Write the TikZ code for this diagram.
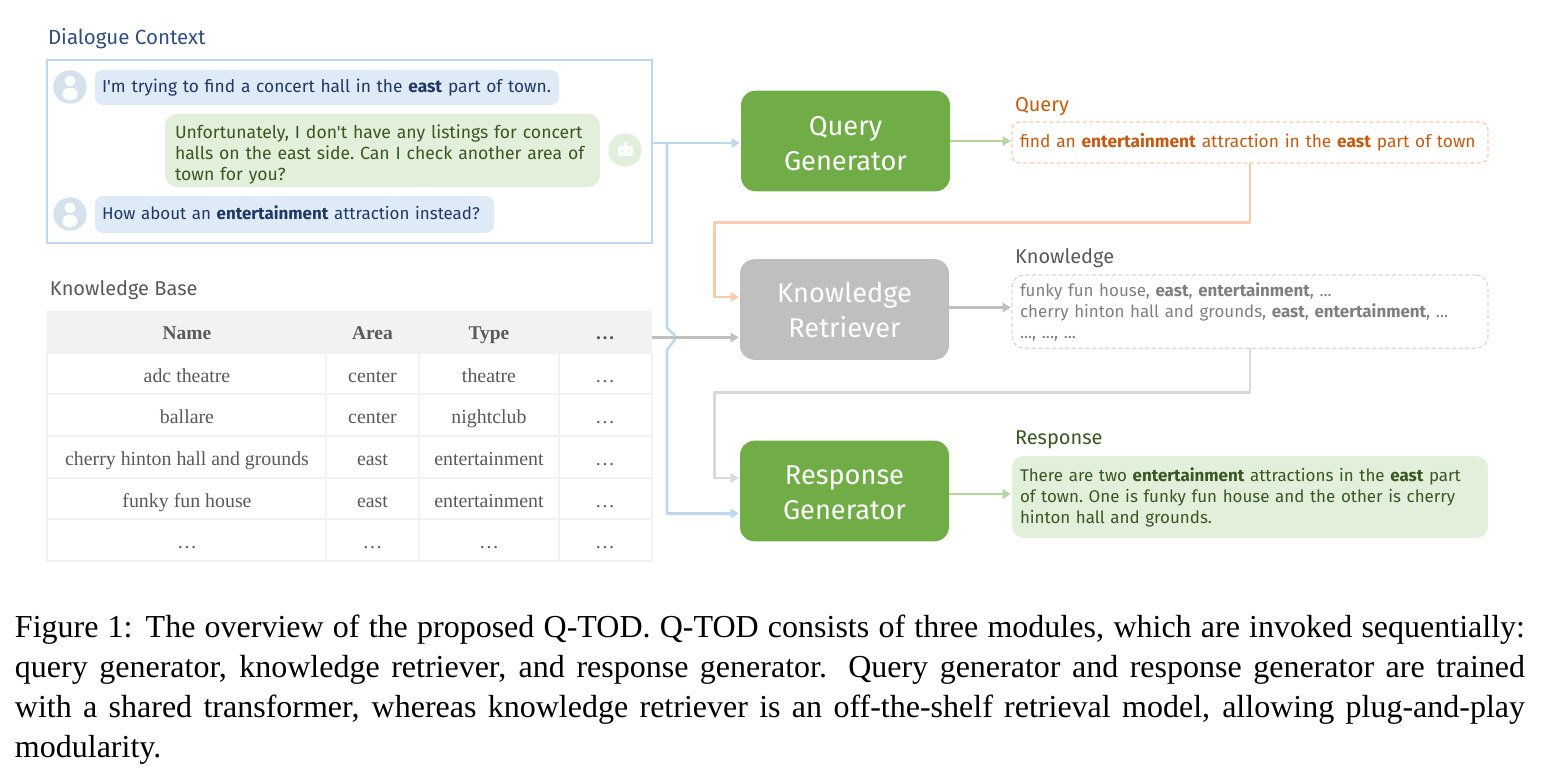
\documentclass[tikz,border=0pt]{standalone}
\usepackage{xcolor}
\usepackage{fontspec}
\setmainfont{Liberation Serif}
\newfontfamily\comicfont{Fira Sans}
\usetikzlibrary{arrows.meta}

\definecolor{dialogblue}{HTML}{BDD7EE}
\definecolor{userfill}{HTML}{DEEAF6}
\definecolor{avatarblue}{HTML}{D6E1EE}
\definecolor{userink}{HTML}{1F3864}
\definecolor{titleblue}{HTML}{2F4F80}
\definecolor{botfill}{HTML}{E2EFDA}
\definecolor{botink}{HTML}{385723}
\definecolor{modgreen}{HTML}{70AD47}
\definecolor{modgray}{HTML}{BFBFBF}
\definecolor{queryink}{HTML}{C55A11}
\definecolor{querydash}{HTML}{F8CBAD}
\definecolor{knowink}{HTML}{7F7F7F}
\definecolor{knowdash}{HTML}{D9D9D9}
\definecolor{tablegray}{HTML}{F2F2F2}
\definecolor{tableink}{HTML}{595959}

\tikzset{
  every node/.style={outer sep=0pt},
  heading/.style={anchor=base west,inner sep=0pt,font=\comicfont\fontsize{15}{18}\selectfont},
  bubble/.style={anchor=north west,rounded corners=6pt,inner xsep=6pt,inner ysep=0pt,align=left,font=\comicfont\frenchspacing\fontsize{12.7}{15.8}\selectfont},
  module/.style={rounded corners=11pt,minimum width=156.75pt,minimum height=75.5pt,align=center,text=white,font=\comicfont\fontsize{20.4}{26.2}\selectfont},
  dashbox/.style={dash pattern=on 3pt off 2pt,line width=1pt},
  avatar/.style={circle,inner sep=0pt,minimum size=25pt},
  cell/.style={anchor=base,inner sep=0pt,text=tableink,font=\fontsize{14.9}{16}\selectfont},
  headcell/.style={cell,font=\fontsize{14.6}{16}\selectfont\bfseries},
  tableline/.style={tablegray,line width=0.9pt},
  link/.style={line width=1.9pt,line join=round,-{Triangle[length=6pt,width=7pt]},shorten >=1pt}
}

\begin{document}
\begin{tikzpicture}[x=0.75pt,y=-0.75pt]
  \useasboundingbox (0,0) rectangle (1543,772);

  \node[heading,text=titleblue,font=\comicfont\fontsize{15.4}{18}\selectfont] (dialogtitle) at (48,44) {Dialogue Context};
  \node[draw=dialogblue,line width=2pt,minimum width=453.75pt,minimum height=137.25pt,anchor=north west] (dialog) at (47,60) {};

  \node[avatar,fill=avatarblue] (user1) at (70,87) {};
  \fill[white] (70,81) circle (5.5);
  \fill[white,rounded corners=4pt] (62.5,88) rectangle (77.5,100);
  \node[bubble,fill=userfill,text=userink,inner xsep=5.25pt,text width=337.5pt,minimum height=26.25pt,font=\comicfont\frenchspacing\fontsize{13}{15.8}\selectfont] (said1) at (95,70) {I'm trying to find a concert hall in the \textbf{east} part of town.};

  \node[bubble,fill=botfill,text=botink,inner xsep=7.5pt,text width=311.25pt,minimum height=54.75pt,rounded corners=9pt,font=\comicfont\frenchspacing\fontsize{13.2}{15.8}\selectfont] (said2) at (165,114) {\rule{0pt}{16pt}Unfortunately, I don't have any listings for concert\\halls on the east side. Can I check another area of\\town for you?};
  \node[avatar,fill=botfill] (bot) at (625,150) {};
  \fill[white,rounded corners=1.5pt] (618,146) rectangle (633,156);
  \fill[white] (624.3,142) rectangle (626.7,147);
  \fill[botfill] (622,151) circle (1.2) (629,151) circle (1.2);

  \node[avatar,fill=avatarblue] (user2) at (70,214) {};
  \fill[white] (70,208) circle (5.5);
  \fill[white,rounded corners=4pt] (62.5,215) rectangle (77.5,227);
  \node[bubble,fill=userfill,text=userink,inner xsep=5.25pt,text width=288.75pt,minimum height=27.75pt,font=\comicfont\frenchspacing\fontsize{12.7}{15.8}\selectfont] (said3) at (95,196) {\rule[-3pt]{0pt}{3pt}How about an \textbf{entertainment} attraction instead?};

  \node[heading,text=tableink] (basetitle) at (50,295) {Knowledge Base};
  \fill[tablegray] (47,311) rectangle (652,353);
  \draw[tableline] (47,353) rectangle (652,561);
  \draw[tableline] (47,394) -- (652,394);
  \draw[tableline] (47,436) -- (652,436);
  \draw[tableline] (47,478) -- (652,478);
  \draw[tableline] (47,519) -- (652,519);
  \draw[tableline] (326,353) -- (326,561);
  \draw[tableline] (419,353) -- (419,561);
  \draw[tableline] (559,353) -- (559,561);

  \node[headcell] (nameh) at (187,339) {Name};
  \node[headcell] (areah) at (372.5,339) {Area};
  \node[headcell] (typeh) at (489,339) {Type};
  \node[headcell] (moreh) at (605,339) {…};
  \node[cell] (name1) at (187,382) {adc theatre};
  \node[cell] (area1) at (372.5,382) {center};
  \node[cell] (type1) at (489,382) {theatre};
  \node[cell] (more1) at (605,382) {…};
  \node[cell] (name2) at (187,423) {ballare};
  \node[cell] (area2) at (372.5,423) {center};
  \node[cell] (type2) at (489,423) {nightclub};
  \node[cell] (more2) at (605,423) {…};
  \node[cell] (name3) at (187,465) {cherry hinton hall and grounds};
  \node[cell] (area3) at (372.5,465) {east};
  \node[cell] (type3) at (489,465) {entertainment};
  \node[cell] (more3) at (605,465) {…};
  \node[cell] (name4) at (187,507) {funky fun house};
  \node[cell] (area4) at (372.5,507) {east};
  \node[cell] (type4) at (489,507) {entertainment};
  \node[cell] (more4) at (605,507) {…};
  \node[cell] (name5) at (187,548) {…};
  \node[cell] (area5) at (372.5,548) {…};
  \node[cell] (type5) at (489,548) {…};
  \node[cell] (more5) at (605,548) {…};

  \node[module,fill=modgreen] (qgen) at (845.5,141) {\rule{0pt}{18pt}Query\\Generator};
  \node[module,fill=modgray] (kret) at (844.5,309.5) {Knowledge\\Retriever};
  \node[module,fill=modgreen] (rgen) at (844.5,491) {\rule{0pt}{17pt}Response\\Generator};

  \node[heading,text=queryink] (querytitle) at (1015,111) {Query};
  \node[bubble,draw=querydash,dashbox,text=queryink,text width=345pt,minimum height=30.75pt,font=\comicfont\frenchspacing\fontsize{13}{15.8}\selectfont] (qbox) at (1012,122) {find an \textbf{entertainment} attraction in the \textbf{east} part of town};
  \node[heading,text=tableink] (knowtitle) at (1015,263) {Knowledge};
  \node[bubble,draw=knowdash,dashbox,text=knowink,text width=345pt,minimum height=55pt,rounded corners=9pt] (kbox) at (1012,275) {funky fun house, \textbf{east}, \textbf{entertainment}, ...\\cherry hinton hall and grounds, \textbf{east}, \textbf{entertainment}, ...\\..., ..., ...};
  \node[heading,text=botink] (resptitle) at (1015,444) {Response};
  \node[bubble,fill=botfill,text=botink,text width=345pt,minimum height=61.5pt,rounded corners=9pt] (rbox) at (1012,456) {There are two \textbf{entertainment} attractions in the \textbf{east} part\\of town. One is funky fun house and the other is cherry\\hinton hall and grounds.};

  \coordinate (trunk) at (667,143);
  \coordinate (qin) at (741,143);
  \coordinate (kin1) at (740,297);
  \coordinate (kin2) at (740,337.5);
  \coordinate (kout) at (949,307.5);
  \coordinate (rin1) at (740,478);
  \coordinate (rin2) at (740,513.5);
  \coordinate (rout) at (949,494);
  \coordinate (qkturn) at (714.5,222.5);
  \coordinate (krturn) at (714.5,392.5);

  \draw[link,dialogblue] (dialog.east |- qin) -- (qin);
  \draw[link,dialogblue] (trunk) -- (667,328) -- (674.5,335) -- (674.5,340) -- (667,350) |- (rin2);
  \draw[link,modgray] (dialog.east |- kin2) -- (kin2);
  \draw[link,botfill!60!modgreen] (qgen.east) -- (qgen.east -| qbox.west);
  \draw[link,modgray] (kout) -- (kout -| kbox.west);
  \draw[link,botfill!60!modgreen] (rout) -- (rout -| rbox.west);
  \draw[link,querydash] (qbox.south) |- (qkturn) |- (kin1);
  \draw[link,knowdash] (kbox.south) |- (krturn) |- (rin1);

  \node[anchor=north west,inner sep=0pt,text width=1132.5pt,align=justify,font=\fontsize{24}{30}\selectfont] (caption) at (15,615) {Figure 1: The overview of the proposed Q-TOD. Q-TOD consists of three modules, which are invoked sequentially:\linebreak query generator, knowledge retriever, and response generator. Query generator and response generator are trained\linebreak with a shared transformer, whereas knowledge retriever is an off-the-shelf retrieval model, allowing plug-and-play\linebreak modularity.};
\end{tikzpicture}
\end{document}
